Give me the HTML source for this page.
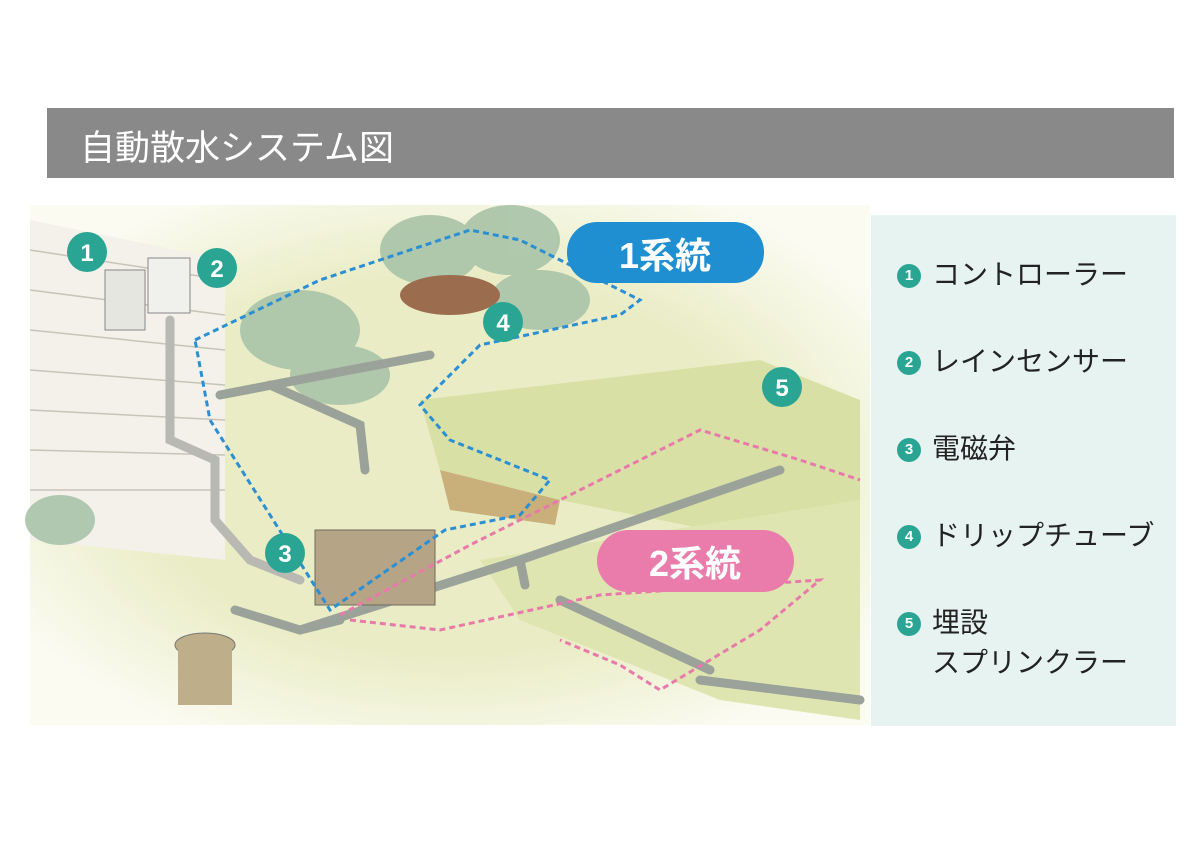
<!DOCTYPE html>
<html><head><meta charset="utf-8"><style>
body{margin:0;width:1200px;height:848px;background:#fff;position:relative;overflow:hidden;font-family:"Liberation Sans","Noto Sans CJK JP",sans-serif}
.bar{position:absolute;left:47px;top:108px;width:1127px;height:70px;background:#898989}
.bar span{position:absolute;left:33px;top:12px;color:#fff;font-size:35px;letter-spacing:0px}
.panel{position:absolute;left:871px;top:215px;width:305px;height:511px;background:#e7f3f0}
.it{position:absolute;left:26px;font-size:28px;color:#222;line-height:40px;white-space:nowrap}
.it b{display:inline-block;width:24px;height:24px;border-radius:50%;background:#2aa594;color:#fff;font-size:15px;text-align:center;line-height:24px;margin-right:11px;vertical-align:4px}
</style></head><body>
<div class="bar"><span>自動散水システム図</span></div>
<svg width="870" height="848" style="position:absolute;left:0;top:0">
<defs><radialGradient id="g" cx="0.5" cy="0.5" r="0.6"><stop offset="0.6" stop-color="#e9ecc4"/><stop offset="1" stop-color="#fbfbf2"/></radialGradient></defs>
<rect x="30" y="205" width="840" height="520" fill="url(#g)"/>
<polygon points="420,400 760,360 860,400 860,560 560,500 440,470" fill="#d9e0a6"/>
<polygon points="440,470 560,500 555,525 450,510" fill="#c9b07a"/>
<polygon points="480,560 860,500 860,720 720,700 520,620" fill="#dfe5b0"/>
<polygon points="30,220 225,260 225,560 30,540" fill="#f3f1ea"/>
<g stroke="#c8c4b8" stroke-width="1.5">
<line x1="30" y1="250" x2="225" y2="280"/><line x1="30" y1="290" x2="225" y2="315"/><line x1="30" y1="330" x2="225" y2="350"/><line x1="30" y1="370" x2="225" y2="385"/><line x1="30" y1="410" x2="225" y2="420"/><line x1="30" y1="450" x2="225" y2="455"/><line x1="30" y1="490" x2="225" y2="490"/></g>
<g fill="#a9c3a8" opacity="0.9"><ellipse cx="300" cy="330" rx="60" ry="40"/><ellipse cx="340" cy="375" rx="50" ry="30"/><ellipse cx="430" cy="250" rx="50" ry="35"/><ellipse cx="510" cy="240" rx="50" ry="35"/><ellipse cx="540" cy="300" rx="50" ry="30"/><ellipse cx="60" cy="520" rx="35" ry="25"/></g>
<ellipse cx="450" cy="295" rx="50" ry="20" fill="#9c6c4e"/>
<g stroke="#9aa29a" stroke-width="9" fill="none" stroke-linecap="round">
<path d="M220,395 L350,370 L430,355 M270,385 L360,425 L365,470 M235,610 L300,630 L520,560 L780,470 M520,560 L525,585 M300,630 L340,620 M700,680 L860,700 M560,600 L710,670"/>
<path d="M170,320 V440 L215,460 V520 L250,560 L300,580" stroke="#b7b9b2"/></g>
<rect x="315" y="530" width="120" height="75" fill="#b5a486" stroke="#6d6d60"/>
<rect x="105" y="270" width="40" height="60" fill="#e6e6e0" stroke="#888"/>
<rect x="148" y="258" width="42" height="55" fill="#f0f0ec" stroke="#888"/>
<ellipse cx="205" cy="645" rx="30" ry="12" fill="#bfae8a" stroke="#777"/>
<rect x="178" y="645" width="54" height="60" fill="#bfae8a"/>
<polyline points="195,340 320,280 470,230 520,240 640,300 620,315 480,345 420,405 450,440 550,480 520,515 445,530 330,610 210,420 195,340" fill="none" stroke="#2a8fd3" stroke-width="3" stroke-dasharray="6,4"/>
<polyline points="340,615 470,545 700,430 800,460 860,480" fill="none" stroke="#e77aaa" stroke-width="3" stroke-dasharray="6,4"/>
<polyline points="350,620 440,630 600,595 820,580 760,630 660,690 620,665 560,640" fill="none" stroke="#e77aaa" stroke-width="3" stroke-dasharray="6,4"/>
<rect x="567" y="222" width="197" height="61" rx="30" fill="#1f8fd2"/>
<text x="665" y="268" fill="#fff" font-size="36" font-weight="bold" text-anchor="middle" font-family="Liberation Sans,Noto Sans CJK JP,sans-serif">1系統</text>
<rect x="597" y="530" width="197" height="62" rx="31" fill="#ea7cab"/>
<text x="695" y="576" fill="#fff" font-size="36" font-weight="bold" text-anchor="middle" font-family="Liberation Sans,Noto Sans CJK JP,sans-serif">2系統</text>
<g fill="#2aa594"><circle cx="87" cy="252" r="20"/><circle cx="217" cy="268" r="20"/><circle cx="285" cy="553" r="20"/><circle cx="503" cy="322" r="20"/><circle cx="782" cy="387" r="20"/></g>
<g fill="#fff" font-size="24" font-weight="bold" text-anchor="middle" font-family="Liberation Sans,sans-serif"><text x="87" y="261">1</text><text x="217" y="277">2</text><text x="285" y="562">3</text><text x="503" y="331">4</text><text x="782" y="396">5</text></g>
</svg>
<div class="panel">
<div class="it" style="top:40px"><b>1</b>コントローラー</div>
<div class="it" style="top:127px"><b>2</b>レインセンサー</div>
<div class="it" style="top:214px"><b>3</b>電磁弁</div>
<div class="it" style="top:301px"><b>4</b>ドリップチューブ</div>
<div class="it" style="top:388px"><b>5</b>埋設<br><span style="padding-left:35px">スプリンクラー</span></div>
</div>
</body></html>
